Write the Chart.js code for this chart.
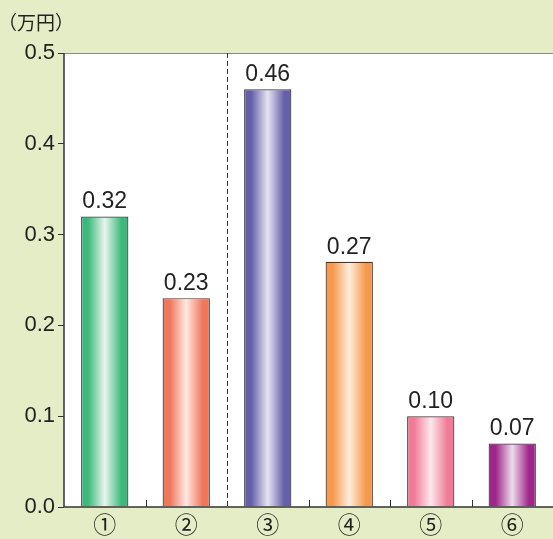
<!DOCTYPE html>
<html>
<head>
<meta charset="utf-8">
<script src="https://cdn.jsdelivr.net/npm/chart.js@4/dist/chart.umd.min.js"></script>
<style>
  html, body { margin: 0; padding: 0; background: #e5edc6; }
  canvas { display: block; }
</style>
</head>
<body>
<canvas id="c" width="553" height="539"></canvas>
<script>
// Categories and values (万円)
const categories = ['①', '②', '③', '④', '⑤', '⑥'];
const values = [0.32, 0.23, 0.46, 0.27, 0.10, 0.07];
const yTicks = [0.0, 0.1, 0.2, 0.3, 0.4, 0.5];
const unitLabel = '（万円）';

// Edge and center colours of each bar's horizontal gradient
const edgeColors = ['#3dba7b', '#f0765c', '#655fa9', '#f6994d', '#f07b97', '#a0268b'];
const centerColors = ['#e9f6ee', '#fde9e2', '#e6e4f2', '#feeede', '#fde8ee', '#ecdcec'];

const BG = '#e5edc6';
const AXIS = '#333333';
const TEXT = '#222222';
const NUM_FONT = '"Liberation Sans", Arial, sans-serif';
const CJK_FONT = '"Noto Sans CJK JP", "Noto Sans", sans-serif';

function barGradient(ctx) {
  const chart = ctx.chart;
  const xs = chart.scales.x;
  if (!xs || !chart.chartArea) return edgeColors[ctx.dataIndex];
  const cx = xs.getPixelForValue(ctx.dataIndex);
  const half = (xs.width / categories.length) * 0.58 / 2;
  const g = chart.ctx.createLinearGradient(cx - half, 0, cx + half, 0);
  const e = edgeColors[ctx.dataIndex], c = centerColors[ctx.dataIndex];
  g.addColorStop(0, e);
  g.addColorStop(0.15, e);
  g.addColorStop(0.5, c);
  g.addColorStop(0.85, e);
  g.addColorStop(1, e);
  return g;
}

// Page background, white plot area, separators and value labels
const decor = {
  id: 'decor',
  beforeDraw(chart) {
    const { ctx, chartArea: a } = chart;
    ctx.save();
    ctx.fillStyle = BG;
    ctx.fillRect(0, 0, chart.width, chart.height);
    ctx.fillStyle = '#ffffff';
    ctx.fillRect(a.left, a.top, a.right - a.left, a.bottom - a.top);
    // top edge of plot
    ctx.strokeStyle = '#8a8a8a';
    ctx.lineWidth = 1;
    ctx.beginPath();
    ctx.moveTo(a.left, a.top + 0.5);
    ctx.lineTo(a.right, a.top + 0.5);
    ctx.stroke();
    ctx.restore();
  },
  afterDatasetsDraw(chart) {
    const { ctx, chartArea: a } = chart;
    const xs = chart.scales.x;
    const step = xs.width / categories.length;
    ctx.save();
    // small ticks between categories
    ctx.strokeStyle = AXIS;
    ctx.lineWidth = 1;
    for (let i = 1; i < categories.length; i++) {
      const x = Math.round(a.left + step * i) + 0.5;
      if (i === 2) continue;
      ctx.beginPath();
      ctx.moveTo(x, a.bottom);
      ctx.lineTo(x, a.bottom - 7);
      ctx.stroke();
    }
    // dashed divider between ② and ③
    const dx = Math.round(a.left + step * 2) + 0.5;
    ctx.setLineDash([5, 3]);
    ctx.beginPath();
    ctx.moveTo(dx, a.top);
    ctx.lineTo(dx, a.bottom);
    ctx.stroke();
    ctx.setLineDash([]);
    // axes
    ctx.lineWidth = 1.5;
    ctx.beginPath();
    ctx.moveTo(a.left, a.top);
    ctx.lineTo(a.left, a.bottom);
    ctx.lineTo(a.right, a.bottom);
    ctx.stroke();
    // value labels
    ctx.fillStyle = TEXT;
    ctx.font = '23px ' + NUM_FONT;
    ctx.textAlign = 'center';
    ctx.textBaseline = 'alphabetic';
    const meta = chart.getDatasetMeta(0);
    meta.data.forEach((el, i) => {
      ctx.fillText(values[i].toFixed(2), el.x, el.y - 8);
    });
    // unit
    ctx.font = '19px ' + CJK_FONT;
    ctx.textAlign = 'left';
    ctx.textBaseline = 'middle';
    ctx.fillText(unitLabel, -2, 23);
    ctx.restore();
  }
};

new Chart(document.getElementById('c'), {
  type: 'bar',
  data: {
    labels: categories,
    datasets: [{
      data: values,
      backgroundColor: barGradient,
      borderColor: '#3a3a3a',
      borderWidth: 1.2,
      borderSkipped: 'bottom',
      categoryPercentage: 1,
      barPercentage: 0.58
    }]
  },
  options: {
    responsive: false,
    animation: false,
    devicePixelRatio: 1,
    layout: { padding: { top: 53, left: 0, right: 0, bottom: 0 } },
    plugins: { legend: { display: false }, tooltip: { enabled: false } },
    scales: {
      x: {
        grid: { display: false, drawTicks: false },
        border: { display: false },
        ticks: { color: TEXT, font: { family: CJK_FONT, size: 23 }, padding: 3 },
        afterFit(s) { s.height = 32; }
      },
      y: {
        min: 0,
        max: 0.5,
        afterBuildTicks(s) { s.ticks = yTicks.map(v => ({ value: v })); },
        grid: { drawOnChartArea: false, drawTicks: true, tickLength: 6, color: AXIS, lineWidth: 1 },
        border: { display: false },
        ticks: {
          color: TEXT,
          font: { family: NUM_FONT, size: 22 },
          padding: 3,
          callback: v => Number(v).toFixed(1)
        },
        afterFit(s) { s.width = 64; }
      }
    }
  },
  plugins: [decor]
});
</script>
</body>
</html>
